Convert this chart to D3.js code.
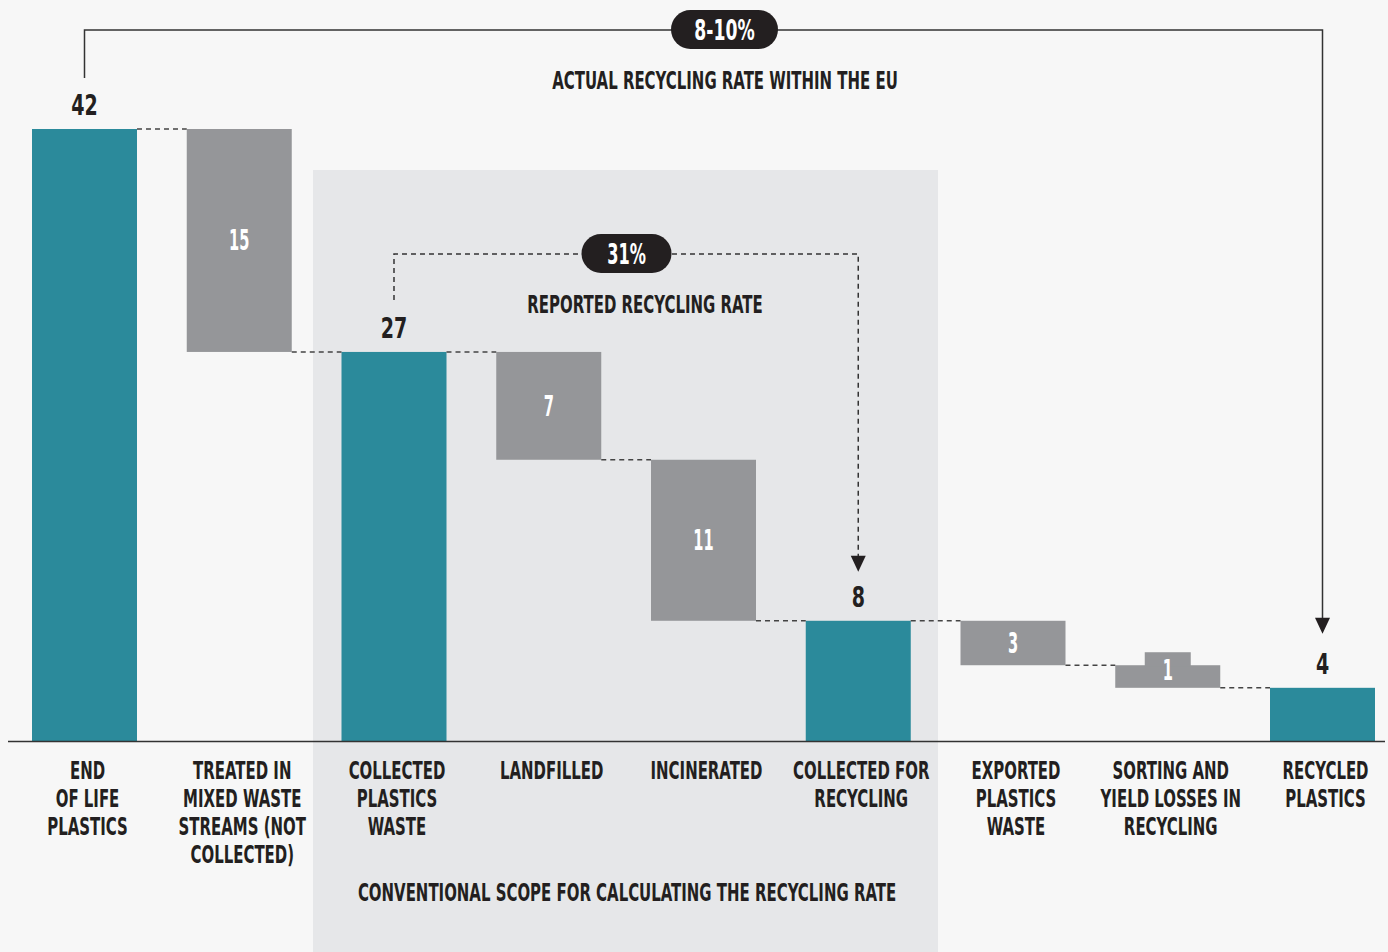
<!DOCTYPE html>
<html><head><meta charset="utf-8">
<script src="https://cdn.jsdelivr.net/npm/d3@7"></script>
<style>
html,body{margin:0;padding:0;background:#f7f7f7;}
svg{display:block;}
text{font-family:'Liberation Sans Narrow','DejaVu Sans Condensed','Liberation Sans',sans-serif;font-weight:bold;}
</style></head>
<body>
<svg id="chart" width="1388" height="952"></svg>
<script>
// ---- data ----
const categories = ["END OF LIFE PLASTICS","TREATED IN MIXED WASTE STREAMS (NOT COLLECTED)","COLLECTED PLASTICS WASTE","LANDFILLED","INCINERATED","COLLECTED FOR RECYCLING","EXPORTED PLASTICS WASTE","SORTING AND YIELD LOSSES IN RECYCLING","RECYCLED PLASTICS"];
const categoryLines = [["END","OF LIFE","PLASTICS"],["TREATED IN","MIXED WASTE","STREAMS (NOT","COLLECTED)"],["COLLECTED","PLASTICS","WASTE"],["LANDFILLED"],["INCINERATED"],["COLLECTED FOR","RECYCLING"],["EXPORTED","PLASTICS","WASTE"],["SORTING AND","YIELD LOSSES IN","RECYCLING"],["RECYCLED","PLASTICS"]];
const barTypes = ["total","delta","total","delta","delta","total","delta","delta","total"];
// running level after each step, as drawn in the picture
const levels = [42, 26.7, 26.7, 19.3, 8.25, 8.25, 5.2, 3.65, 3.65];
// value labels shown
const valueLabels = ["42","15","27","7","11","8","3","1","4"];
const actualRate = "8-10%";
const reportedRate = "31%";
const actualText = "ACTUAL RECYCLING RATE WITHIN THE EU";
const reportedText = "REPORTED RECYCLING RATE";
const scopeText = "CONVENTIONAL SCOPE FOR CALCULATING THE RECYCLING RATE";

// ---- layout ----
const svg = d3.select("#chart");
const W = 1388, H = 952;
const baseY = 741;
const teal = "#2b8a9b", grey = "#959699", dark = "#231f20";
const SX = 0.665;

const x = d3.scaleBand().domain(categories).range([32, 1375]).paddingInner(0.3215).paddingOuter(0);
const y = d3.scaleLinear().domain([0, 42]).range([baseY, 129]);

svg.append("rect").attr("width", W).attr("height", H).attr("fill", "#f7f7f7");
// shaded conventional scope
svg.append("rect").attr("x", 313).attr("y", 170).attr("width", 625).attr("height", H - 170).attr("fill", "#e6e7e9");

function ctext(g, px, py, str, size, sx, fill) {
  const gg = g.append("g").attr("transform", `translate(${px},${py}) scale(${sx},1)`);
  gg.append("text").attr("x", 0).attr("y", 0).attr("text-anchor", "middle")
    .attr("font-size", size).attr("fill", fill || dark).text(str);
  return gg;
}

// bars
const data = categories.map((c, i) => {
  const hi = barTypes[i] === "total" ? levels[i] : levels[i - 1];
  const lo = barTypes[i] === "total" ? 0 : levels[i];
  return { c, i, hi, lo, type: barTypes[i], label: valueLabels[i] };
});

svg.append("g").selectAll("rect").data(data).join("rect")
  .attr("x", d => x(d.c)).attr("width", x.bandwidth())
  .attr("y", d => y(d.hi)).attr("height", d => y(d.lo) - y(d.hi))
  .attr("fill", d => d.type === "total" ? teal : grey);

// tab for tiny delta labels
data.filter(d => d.type === "delta" && (y(d.lo) - y(d.hi)) < 30).forEach(d => {
  svg.append("rect").attr("x", x(d.c) + x.bandwidth()/2 - 23).attr("width", 46)
    .attr("y", y(d.hi) - 13).attr("height", 14).attr("fill", grey);
});

// connectors
const conn = svg.append("g");
for (let i = 0; i < data.length - 1; i++) {
  conn.append("line")
    .attr("x1", x(categories[i]) + x.bandwidth()).attr("x2", x(categories[i + 1]))
    .attr("y1", y(levels[i])).attr("y2", y(levels[i]))
    .attr("stroke", "#444").attr("stroke-width", 1.5).attr("stroke-dasharray", "5,4");
}

// baseline
svg.append("line").attr("x1", 8).attr("x2", 1385).attr("y1", baseY + 0.5).attr("y2", baseY + 0.5)
  .attr("stroke", "#333").attr("stroke-width", 1.5);

// value labels
data.forEach(d => {
  const cx = x(d.c) + x.bandwidth()/2;
  if (d.type === "total") {
    ctext(svg, cx, y(d.hi) - 14, d.label, 29, 0.73, dark);
  } else {
    let top = y(d.hi), bot = y(d.lo);
    if (bot - top < 30) top -= 13;
    ctext(svg, cx, (top + bot)/2 + 10, d.label, 28, 0.58, "#fff");
  }
});

// category labels
categoryLines.forEach((lines, i) => {
  const cx = x(categories[i]) + x.bandwidth()/2 + 3;
  lines.forEach((ln, j) => ctext(svg, cx, 779 + j*28, ln, 25, SX, dark));
});

// arrows
function arrowHead(px, tipY) {
  svg.append("path").attr("d", `M${px-7.5},${tipY-16} L${px+7.5},${tipY-16} L${px},${tipY} Z`).attr("fill", dark);
}
function pill(cx, cy, w, h, str, sx) {
  svg.append("rect").attr("x", cx - w/2).attr("y", cy - h/2).attr("width", w).attr("height", h)
    .attr("rx", h/2).attr("fill", dark);
  ctext(svg, cx, cy + 10, str, 29, sx, "#fff");
}

// actual rate bracket (solid)
const x1c = x(categories[0]) + x.bandwidth()/2;
const x9c = x(categories[8]) + x.bandwidth()/2;
svg.append("path").attr("d", `M${x1c},78 V30 H${x9c} V620`).attr("fill", "none")
  .attr("stroke", "#333").attr("stroke-width", 1.5);
arrowHead(x9c, y(levels[8]) - 54);
pill(724.5, 29.5, 107, 39, actualRate, 0.66);
ctext(svg, 725, 89, actualText, 25, SX, dark);

// reported rate bracket (dashed)
const x3c = x(categories[2]) + x.bandwidth()/2;
const x6c = x(categories[5]) + x.bandwidth()/2;
svg.append("path").attr("d", `M${x3c},300 V254 H${x6c} V558`).attr("fill", "none")
  .attr("stroke", "#333").attr("stroke-width", 1.5).attr("stroke-dasharray", "5,4");
arrowHead(x6c, y(levels[5]) - 49);
pill(626.5, 253.5, 90, 39, reportedRate, 0.62);
ctext(svg, 645, 313, reportedText, 25, SX, dark);

// scope label
ctext(svg, 627, 901, scopeText, 25, SX, dark);
</script>
</body></html>
